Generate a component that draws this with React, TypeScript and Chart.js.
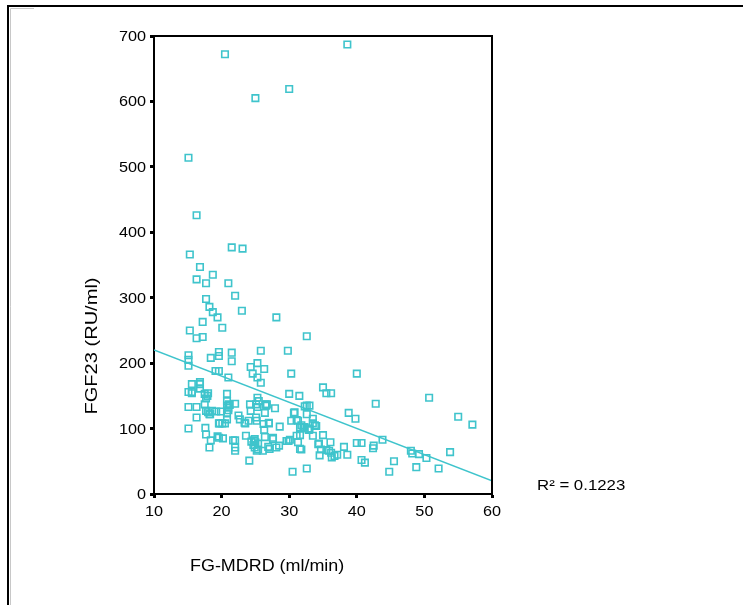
import React, { useEffect, useRef } from "react";
import { Chart, registerables } from "chart.js";

Chart.register(...registerables);

// ---- data ----
const xTicks = [10, 20, 30, 40, 50, 60];
const yTicks = [0, 100, 200, 300, 400, 500, 600, 700];

const xTitle = "FG-MDRD (ml/min)";
const yTitle = "FGF23 (RU/ml)";
const r2Label = "R² = 0.1223";

// FG-MDRD (ml/min)
const gfrValues = [
  38.6, 20.5, 30.0, 25.0, 15.1, 16.3, 21.5, 23.1, 15.3, 16.8, 18.7, 16.3, 17.7, 21.0, 22.0, 17.7, 18.2, 23.0, 18.7, 19.4, 28.1, 17.2, 20.1, 15.3, 17.2, 16.3, 32.6,
  15.1, 15.1, 15.1, 19.6, 19.6, 18.4, 21.5, 21.5, 25.8, 29.8, 25.3, 24.3, 26.3, 24.6, 25.3, 25.8, 30.3, 40.0, 19.1, 19.6, 21.0,
  15.6, 16.8, 15.1, 15.6, 16.8, 17.5, 18.0, 17.7, 20.8, 20.8, 22.0, 21.2, 21.0, 15.1, 16.3, 17.5, 17.7, 18.2, 19.2, 19.9, 20.8, 16.3,
  15.1, 17.6, 17.7, 18.4, 18.2, 19.6, 20.1, 19.6, 20.8, 22.5, 22.7, 22.0, 22.0, 22.0,
  24.2, 24.3, 25.3, 25.5, 25.3, 26.5, 26.6, 26.4, 25.1, 25.2, 27.9, 24.0, 23.5, 26.2, 26.3, 27.0, 28.6, 30.7, 30.3, 31.3, 32.1, 33.0, 33.5, 32.6, 33.0, 30.0, 31.5, 35.0, 35.5, 36.2,
  23.6, 24.9, 25.4, 24.9, 25.4, 20.2, 27.6, 26.9, 28.1, 29.6, 29.9, 31.3, 31.8, 31.1, 33.5, 34.4, 34.5, 36.1, 35.5, 36.2, 36.7, 24.1,
  40.0, 40.7, 38.8, 39.8, 42.8, 43.8, 42.4, 42.5, 40.7, 41.2, 38.1, 38.6, 37.1, 36.3, 48.0, 48.2, 49.2, 50.3, 45.5, 44.8, 48.8, 52.1, 53.8, 55.0, 57.1, 50.7, 30.5, 32.6,
  32.6, 33.5, 34.0, 31.6, 32.2, 32.9, 31.6, 34.3, 35.0, 34.7, 35.9,
  19.4, 21.7, 25.0, 26.1, 25.2, 27.1, 28.5, 30.1, 31.6, 26.4, 27.6, 23.4, 25.1, 27.0, 26.7, 30.8, 31.1, 32.3, 33.8, 31.8, 32.3, 32.8,
  18.0, 18.3, 18.6, 19.7, 20.5, 21.0, 20.8, 21.1, 15.6, 16.8, 17.9, 24.4, 24.7, 24.8,
];

// FGF23 (RU/ml)
const fgf23Values = [
  687, 672, 619, 605, 514, 426, 377, 375, 366, 347, 335, 328, 322, 322, 303, 298, 286, 280, 278, 270, 270, 263, 254, 250, 240, 238, 241,
  212, 205, 196, 217, 211, 208, 216, 203, 219, 219, 200, 194, 191, 184, 178, 170, 184, 184, 188, 188, 178,
  168, 168, 156, 154, 161, 153, 154, 146, 153, 142, 138, 136, 132, 133, 133, 137, 127, 122, 126, 126, 123, 117,
  100, 101, 91, 82, 71, 108, 108, 86, 114, 120, 114, 82, 71, 66,
  137, 127, 147, 142, 133, 137, 135, 124, 117, 112, 131, 112, 108, 107, 98, 108, 103, 124, 112, 112, 102, 99, 108, 135, 135, 153, 150, 163, 154, 154,
  89, 84, 77, 71, 68, 85, 84, 72, 71, 81, 81, 79, 68, 89, 89, 77, 59, 79, 67, 63, 58, 51,
  78, 78, 124, 115, 138, 83, 70, 74, 52, 48, 72, 60, 60, 56, 66, 62, 61, 55, 50, 34, 41, 39, 64, 118, 106, 147, 34, 39,
  122, 115, 104, 102, 102, 98, 90, 76, 90, 68, 66,
  88, 82, 79, 66, 66, 69, 74, 83, 69, 87, 86, 109, 137, 109, 137, 125, 113, 134, 105, 105, 102, 100,
  125, 122, 127, 108, 108, 128, 135, 137, 156, 171, 150, 80, 75, 82,
];

// fitted linear regression line end points
const fitX = [10, 60];
const fitY = [220, 20];

const CYAN = "#3fc4cc";
const FONT = '"Liberation Sans", Arial, Helvetica, sans-serif';
const SX = 1.12;

const spssPlugin = {
  id: "spssDecor",
  beforeDraw(chart: any) {
    const ctx = chart.ctx;
    ctx.save();
    ctx.fillStyle = "#fff";
    ctx.fillRect(0, 0, chart.width, chart.height);
    // outer frame
    ctx.strokeStyle = "#000";
    ctx.lineWidth = 2;
    ctx.beginPath();
    ctx.moveTo(8, chart.height);
    ctx.lineTo(8, 6);
    ctx.lineTo(chart.width, 6);
    ctx.stroke();
    ctx.strokeStyle = "#c8c8c8";
    ctx.lineWidth = 1;
    ctx.beginPath();
    ctx.moveTo(10.5, chart.height);
    ctx.lineTo(10.5, 8.5);
    ctx.lineTo(34, 8.5);
    ctx.stroke();
    ctx.restore();
  },
  afterDraw(chart: any) {
    const ctx = chart.ctx;
    const { left, right, top, bottom } = chart.chartArea;
    const xs = chart.scales.x;
    const ys = chart.scales.y;
    ctx.save();
    ctx.strokeStyle = "#000";
    ctx.lineWidth = 2;
    ctx.beginPath();
    ctx.moveTo(left, top);
    ctx.lineTo(right, top);
    ctx.lineTo(right, bottom);
    ctx.stroke();

    const draw = (t: string, x: number, y: number, size: number, align: CanvasTextAlign) => {
      ctx.save();
      ctx.translate(x, y);
      ctx.scale(SX, 1);
      ctx.font = `${size}px ${FONT}`;
      ctx.textAlign = align;
      ctx.textBaseline = "alphabetic";
      ctx.fillStyle = "#000";
      ctx.fillText(t, 0, 0);
      ctx.restore();
    };

    yTicks.forEach((v) => draw(String(v), left - 8, ys.getPixelForValue(v) + 5, 14.5, "right"));
    xTicks.forEach((v) => draw(String(v), xs.getPixelForValue(v), bottom + 22, 14.5, "center"));
    draw(xTitle, left + 36, bottom + 77, 16, "left");
    draw(r2Label, right + 45, bottom - 4, 15, "left");

    ctx.save();
    ctx.translate(97, 346);
    ctx.rotate(-Math.PI / 2);
    ctx.scale(1.18, 1);
    ctx.font = `17px ${FONT}`;
    ctx.textAlign = "center";
    ctx.textBaseline = "alphabetic";
    ctx.fillStyle = "#000";
    ctx.fillText(yTitle, 0, 0);
    ctx.restore();

    ctx.restore();
  },
};

export default function App() {
  const ref = useRef<HTMLCanvasElement | null>(null);

  useEffect(() => {
    if (!ref.current) return;
    const points = gfrValues.map((x, i) => ({ x, y: fgf23Values[i] }));
    const fit = fitX.map((x, i) => ({ x, y: fitY[i] }));
    const chart = new Chart(ref.current, {
      type: "scatter",
      data: {
        datasets: [
          {
            type: "line",
            data: fit,
            borderColor: CYAN,
            borderWidth: 1.5,
            pointRadius: 0,
            fill: false,
          } as any,
          {
            data: points,
            pointStyle: "rect",
            pointRadius: 4.6,
            pointBorderWidth: 1.6,
            pointBorderColor: CYAN,
            pointBackgroundColor: "rgba(255,255,255,0)",
            borderColor: CYAN,
            backgroundColor: "rgba(255,255,255,0)",
          },
        ],
      },
      options: {
        animation: false,
        responsive: true,
        maintainAspectRatio: false,
        devicePixelRatio: 1,
        layout: { padding: { left: 94, top: 36, right: 251, bottom: 71 } },
        plugins: {
          legend: { display: false },
          tooltip: { enabled: false },
          title: { display: false },
        },
        scales: {
          x: {
            type: "linear",
            min: 10,
            max: 60,
            ticks: { stepSize: 10, display: false },
            grid: {
              display: true,
              drawOnChartArea: false,
              drawTicks: true,
              tickLength: 4,
              tickWidth: 3,
              tickColor: "#000",
            },
            border: { display: true, color: "#000", width: 2 },
            afterFit: (s: any) => {
              s.height = 40;
            },
          },
          y: {
            type: "linear",
            min: 0,
            max: 700,
            ticks: { stepSize: 100, display: false },
            grid: {
              display: true,
              drawOnChartArea: false,
              drawTicks: true,
              tickLength: 4,
              tickWidth: 3,
              tickColor: "#000",
            },
            border: { display: true, color: "#000", width: 2 },
            afterFit: (s: any) => {
              s.width = 60;
            },
          },
        },
      },
      plugins: [spssPlugin],
    });
    return () => chart.destroy();
  }, []);

  return (
    <div style={{ position: "absolute", left: 0, top: 0, width: 743, height: 605, background: "#fff" }}>
      <canvas ref={ref} />
    </div>
  );
}
